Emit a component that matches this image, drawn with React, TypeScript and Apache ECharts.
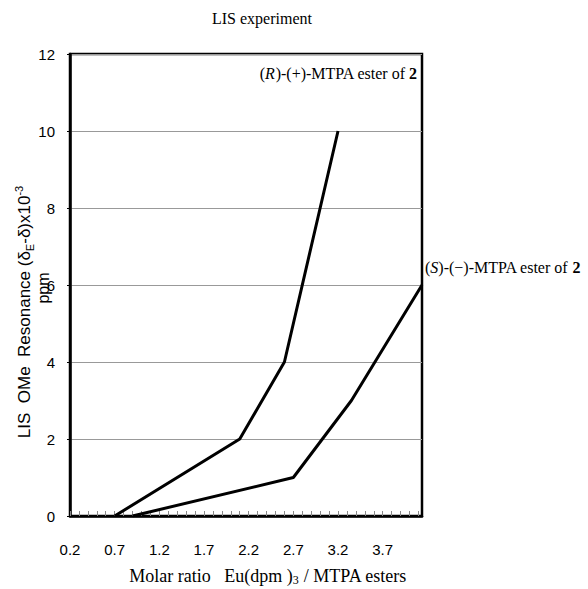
import React, { useEffect, useRef } from "react";
import * as echarts from "echarts";

const rSeries: [number, number][] = [
  [0.7, 0],
  [2.1, 2],
  [2.6, 4],
  [3.2, 10],
];
const sSeries: [number, number][] = [
  [0.9, 0],
  [2.7, 1],
  [3.35, 3],
  [4.14, 6],
];
const xLabelValues = [0.2, 0.7, 1.2, 1.7, 2.2, 2.7, 3.2, 3.7];
const xMinorTicks = [
  0.2, 0.3, 0.4, 0.5, 0.6, 0.7, 0.8, 0.9, 1.0, 1.1, 1.2, 1.3, 1.4, 1.5, 1.6, 1.7, 1.8, 1.9, 2.0,
  2.1, 2.2, 2.3, 2.4, 2.5, 2.6, 2.7, 2.8, 2.9, 3.0, 3.1, 3.2, 3.3, 3.4, 3.5, 3.6, 3.7, 3.8, 3.9,
  4.0, 4.1,
];
const yMin = 0;
const yMax = 12;
const yStep = 2;
const xMin = 0.2;
const xMax = 4.14;

const SERIF = "'Liberation Serif', 'Times New Roman', serif";
const SANS = "'Liberation Sans', Arial, sans-serif";

export default function App() {
  const ref = useRef<HTMLDivElement>(null);
  useEffect(() => {
    if (!ref.current) return;
    const chart = echarts.init(ref.current, undefined, { renderer: "svg" });
    chart.setOption({
      animation: false,
      backgroundColor: "#ffffff",
      grid: {
        left: 70,
        right: 166,
        top: 54,
        bottom: 73,
        show: true,
        borderColor: "#000",
        borderWidth: 2.5,
        backgroundColor: "transparent",
      },
      xAxis: {
        type: "value",
        min: xMin,
        max: xMax,
        axisLine: { show: true, onZero: false, lineStyle: { color: "#000", width: 2.5 } },
        axisTick: {
          show: true,
          inside: true,
          length: 5,
          customValues: xMinorTicks,
          lineStyle: { color: "#888", width: 1 },
        },
        axisLabel: {
          customValues: xLabelValues,
          formatter: (v: number) => v.toFixed(1),
          fontFamily: SANS,
          fontSize: 15,
          color: "#000",
          margin: 26,
        },
        splitLine: { show: false },
      },
      yAxis: {
        type: "value",
        min: yMin,
        max: yMax,
        interval: yStep,
        axisLine: { show: true, lineStyle: { color: "#000", width: 2.5 } },
        axisTick: { show: true, length: 3, lineStyle: { color: "#000", width: 1 } },
        axisLabel: { fontFamily: SANS, fontSize: 15, color: "#000", margin: 15 },
        splitLine: { show: true, lineStyle: { color: "#999", width: 1 } },
      },
      series: [
        {
          type: "line",
          data: rSeries,
          symbol: "none",
          lineStyle: { color: "#000", width: 3 },
          z: 5,
        },
        {
          type: "line",
          data: sSeries,
          symbol: "none",
          lineStyle: { color: "#000", width: 3 },
          z: 5,
        },
      ],
      graphic: [
        {
          type: "text",
          x: 262,
          y: 18,
          style: {
            text: "LIS experiment",
            font: `16px ${SERIF}`,
            fill: "#000",
            align: "center",
            verticalAlign: "middle",
          },
        },
        {
          type: "text",
          x: 268,
          y: 576,
          style: {
            text: "{a|Molar ratio   Eu(dpm )}{s|3}{a| / MTPA esters}",
            align: "center",
            verticalAlign: "middle",
            rich: {
              a: { fontFamily: SERIF, fontSize: 18, fill: "#000", lineHeight: 20, verticalAlign: "middle" },
              s: { fontFamily: SERIF, fontSize: 12, fill: "#000", lineHeight: 20, verticalAlign: "bottom" },
            },
          },
        },
        {
          type: "text",
          x: 417,
          y: 73,
          style: {
            text: "{a|(}{i|R}{a|)-(+)-MTPA ester of }{b|2}",
            align: "right",
            verticalAlign: "middle",
            rich: {
              a: { fontFamily: SERIF, fontSize: 16, fill: "#000" },
              i: { fontFamily: SERIF, fontSize: 16, fontStyle: "italic", fill: "#000" },
              b: { fontFamily: SERIF, fontSize: 16, fontWeight: "bold", fill: "#000" },
            },
          },
        },
        {
          type: "text",
          x: 425,
          y: 267,
          style: {
            text: "{a|(}{i|S}{a|)-(\u2212)-MTPA ester of }{b|2}",
            align: "left",
            verticalAlign: "middle",
            rich: {
              a: { fontFamily: SERIF, fontSize: 16, fill: "#000" },
              i: { fontFamily: SERIF, fontSize: 16, fontStyle: "italic", fill: "#000" },
              b: { fontFamily: SERIF, fontSize: 16, fontWeight: "bold", fill: "#000" },
            },
          },
        },
        {
          type: "text",
          x: 24,
          y: 312,
          rotation: Math.PI / 2,
          style: {
            text: "{a|LIS  OMe  Resonance (\u03b4}{s|E}{a|-\u03b4)x10}{p|-3}",
            align: "center",
            verticalAlign: "middle",
            rich: {
              a: { fontFamily: SANS, fontSize: 17, fill: "#000", lineHeight: 22, verticalAlign: "middle" },
              s: { fontFamily: SANS, fontSize: 11, fill: "#000", lineHeight: 22, verticalAlign: "bottom" },
              p: { fontFamily: SANS, fontSize: 11, fill: "#000", lineHeight: 22, verticalAlign: "top" },
            },
          },
        },
        {
          type: "text",
          x: 43,
          y: 288,
          rotation: Math.PI / 2,
          style: {
            text: "ppm",
            font: `16px ${SANS}`,
            fill: "#000",
            align: "center",
            verticalAlign: "middle",
          },
        },
      ],
    });
    return () => chart.dispose();
  }, []);
  return <div ref={ref} style={{ width: 588, height: 589, position: "absolute", left: 0, top: 0 }} />;
}
